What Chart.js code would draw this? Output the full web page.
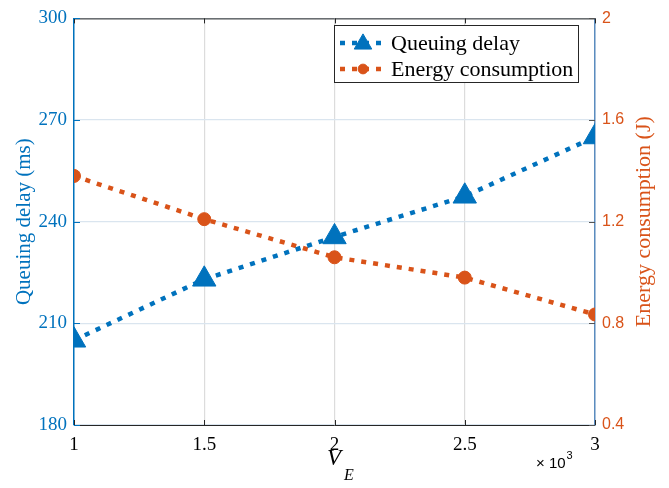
<!DOCTYPE html>
<html>
<head>
<meta charset="utf-8">
<script src="https://cdn.jsdelivr.net/npm/chart.js@4.4.1/dist/chart.umd.min.js"></script>
<style>
  html, body { margin: 0; padding: 0; background: #fff; }
  #wrap { width: 669px; height: 488px; }
</style>
</head>
<body>
<div id="wrap"><canvas id="myChart" width="669" height="488"></canvas></div>
<script>
// data
const vE = [1000, 1500, 2000, 2500, 3000];
const queuingDelay = [205, 223, 235.5, 247.5, 265];      // ms, left axis
const energyConsumption = [1.38, 1.21, 1.06, 0.98, 0.835]; // J, right axis
const delayTicks = [180, 210, 240, 270, 300];
const energyTicks = [0.4, 0.8, 1.2, 1.6, 2];
const xTicks = [1000, 1500, 2000, 2500, 3000];

const BLUE = "#0072BD";
const ORANGE = "#D95319";
const SERIF = "'Liberation Serif', 'DejaVu Serif', serif";
const SANS = "'Liberation Sans', Arial, sans-serif";

// inward ticks, box top line, axis titles, legend
const extras = {
  id: "extras",
  afterDraw(chart) {
    const ctx = chart.ctx;
    const a = chart.chartArea;
    const x = chart.scales.x, y = chart.scales.y, y1 = chart.scales.y1;
    ctx.save();
    // top border
    ctx.strokeStyle = "#262626";
    ctx.lineWidth = 1;
    ctx.beginPath();
    ctx.moveTo(a.left, a.top + 0.5);
    ctx.lineTo(a.right, a.top + 0.5);
    ctx.stroke();
    // x ticks
    xTicks.forEach(v => {
      const px = Math.round(x.getPixelForValue(v)) + 0.5;
      ctx.beginPath();
      ctx.moveTo(px, a.bottom);
      ctx.lineTo(px, a.bottom - 5);
      ctx.moveTo(px, a.top);
      ctx.lineTo(px, a.top + 5);
      ctx.stroke();
    });
    // left ticks
    ctx.strokeStyle = BLUE;
    delayTicks.forEach(v => {
      const py = Math.round(y.getPixelForValue(v)) + 0.5;
      ctx.beginPath();
      ctx.moveTo(a.left, py);
      ctx.lineTo(a.left + 6, py);
      ctx.stroke();
    });
    // right ticks
    ctx.strokeStyle = "#555";
    energyTicks.forEach(v => {
      const py = Math.round(y1.getPixelForValue(v)) + 0.5;
      ctx.beginPath();
      ctx.moveTo(a.right, py);
      ctx.lineTo(a.right - 6, py);
      ctx.stroke();
    });

    // axis titles
    ctx.textAlign = "center";
    ctx.textBaseline = "middle";
    ctx.font = "21px " + SERIF;
    ctx.fillStyle = BLUE;
    ctx.save();
    ctx.translate(24, (a.top + a.bottom) / 2);
    ctx.rotate(-Math.PI / 2);
    ctx.fillText("Queuing delay (ms)", 0, 0);
    ctx.restore();
    ctx.font = "22px " + SERIF;
    ctx.fillStyle = ORANGE;
    ctx.save();
    ctx.translate(644, (a.top + a.bottom) / 2);
    ctx.rotate(-Math.PI / 2);
    ctx.fillText("Energy consumption (J)", 0, 0);
    ctx.restore();

    // x label V_E
    ctx.fillStyle = "#000";
    ctx.textAlign = "left";
    ctx.font = "italic 23px " + SERIF;
    ctx.fillText("V", 327, 459);
    ctx.font = "italic 16px " + SERIF;
    ctx.fillText("E", 344, 476);
    // x10^3
    ctx.font = "15px " + SANS;
    const mult = "\u00d7 10";
    ctx.fillText(mult, 536, 464);
    const w = ctx.measureText(mult).width;
    ctx.font = "11px " + SANS;
    ctx.fillText("3", 536 + w + 1, 456);

    // legend
    const lx = 334, ly = 25, lw = 244, lh = 57;
    ctx.fillStyle = "#fff";
    ctx.fillRect(lx, ly, lw, lh);
    ctx.strokeStyle = "#262626";
    ctx.lineWidth = 1;
    ctx.strokeRect(lx + 0.5, ly + 0.5, lw, lh);
    chart.data.datasets.forEach((ds, i) => {
      const cy = ly + 18 + i * 26;
      ctx.strokeStyle = ds.borderColor;
      ctx.lineWidth = ds.borderWidth;
      ctx.setLineDash(ds.borderDash);
      ctx.beginPath();
      ctx.moveTo(340, cy);
      ctx.lineTo(386, cy);
      ctx.stroke();
      ctx.setLineDash([]);
      ctx.lineWidth = 1;
      ctx.fillStyle = ds.pointBackgroundColor;
      ctx.strokeStyle = ds.pointBorderColor;
      Chart.helpers.drawPoint(ctx, {
        pointStyle: ds.pointStyle,
        radius: ds.pointRadius * 0.75,
        rotation: 0,
        borderWidth: 1
      }, 363, cy + (i === 0 ? 1 : 0));
      ctx.fillStyle = "#000";
      ctx.font = "22px " + SERIF;
      ctx.textAlign = "left";
      ctx.textBaseline = "middle";
      ctx.fillText(ds.label, 391, cy + 1);
    });
    ctx.restore();
  }
};

new Chart(document.getElementById("myChart"), {
  type: "line",
  data: {
    datasets: [
      {
        label: "Queuing delay",
        data: vE.map((v, i) => ({ x: v, y: queuingDelay[i] })),
        yAxisID: "y",
        borderColor: BLUE,
        borderWidth: 4.5,
        borderDash: [5, 7],
        pointStyle: "triangle",
        pointRadius: 13.5,
        pointBackgroundColor: BLUE,
        pointBorderColor: BLUE,
        pointBorderWidth: 1,
        fill: false
      },
      {
        label: "Energy consumption",
        data: vE.map((v, i) => ({ x: v, y: energyConsumption[i] })),
        yAxisID: "y1",
        borderColor: ORANGE,
        borderWidth: 4.5,
        borderDash: [5, 7],
        pointStyle: "circle",
        pointRadius: 6.5,
        pointBackgroundColor: ORANGE,
        pointBorderColor: ORANGE,
        pointBorderWidth: 1,
        fill: false
      }
    ]
  },
  options: {
    responsive: false,
    animation: false,
    events: [],
    layout: { padding: { top: 13, left: 0, right: 0, bottom: 0 } },
    plugins: { legend: { display: false }, tooltip: { enabled: false } },
    scales: {
      x: {
        type: "linear",
        min: 1000,
        max: 3000,
        afterFit: s => { s.height = 63; },
        afterBuildTicks: s => { s.ticks = xTicks.map(v => ({ value: v })); },
        grid: { color: "#dcdcdc", drawTicks: false, lineWidth: 1.2 },
        border: { display: true, color: "#262626", width: 1 },
        ticks: {
          padding: 9,
          color: "#000",
          font: { family: SERIF, size: 19 },
          callback: v => String(v / 1000)
        }
      },
      y: {
        position: "left",
        min: 180,
        max: 300,
        afterFit: s => { s.width = 74; },
        afterBuildTicks: s => { s.ticks = delayTicks.map(v => ({ value: v })); },
        grid: { color: "#dae5ef", drawTicks: false, lineWidth: 1.2 },
        border: { display: true, color: BLUE, width: 1.5 },
        ticks: {
          padding: 7,
          color: BLUE,
          font: { family: SERIF, size: 19 }
        }
      },
      y1: {
        position: "right",
        min: 0.4,
        max: 2,
        afterFit: s => { s.width = 74; },
        afterBuildTicks: s => { s.ticks = energyTicks.map(v => ({ value: v })); },
        grid: { display: false, drawTicks: false },
        border: { display: true, color: "#5a8cbf", width: 1.5 },
        ticks: {
          padding: 7,
          color: ORANGE,
          font: { family: SANS, size: 16 },
          callback: v => String(v)
        }
      }
    }
  },
  plugins: [extras]
});
</script>
</body>
</html>
